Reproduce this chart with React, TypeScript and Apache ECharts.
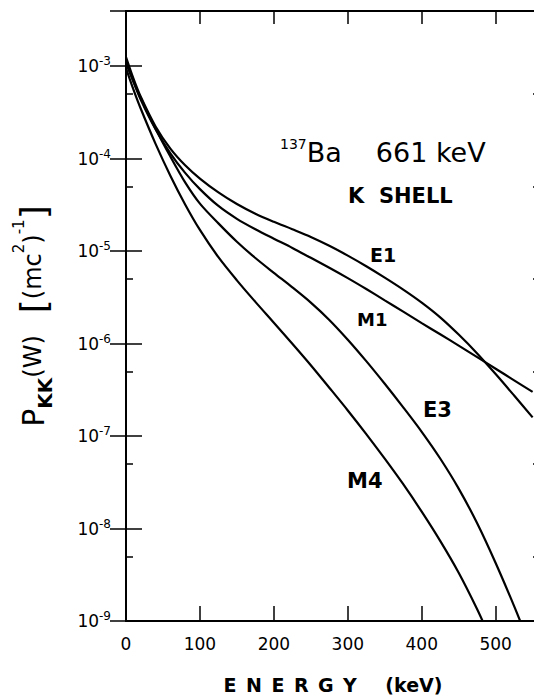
import React, { useEffect, useRef } from 'react';
import * as echarts from 'echarts';

// Energies (keV) and K-shell pair-creation probabilities P_KK(W) [(mc^2)^-1]
const energyE1 = [0, 10, 20, 40, 60, 80, 100, 125, 150, 175, 200, 225, 250, 275, 300, 325, 350, 375, 400, 425, 450, 475, 500, 525, 550];
const valuesE1 = [1.25e-3, 7.36e-4, 4.65e-4, 2.22e-4, 1.28e-4, 8.45e-5, 6.07e-5, 4.3e-5, 3.22e-5, 2.53e-5, 2.07e-5, 1.72e-5, 1.42e-5, 1.14e-5, 8.92e-6, 6.85e-6, 5.16e-6, 3.83e-6, 2.77e-6, 1.92e-6, 1.25e-6, 7.82e-7, 4.68e-7, 2.74e-7, 1.59e-7];

const energyM1 = [0, 10, 20, 40, 60, 80, 100, 125, 150, 175, 200, 225, 250, 275, 300, 325, 350, 375, 400, 425, 450, 475, 500, 525, 550];
const valuesM1 = [1.16e-3, 6.84e-4, 4.32e-4, 2.07e-4, 1.14e-4, 7.0e-5, 4.67e-5, 3.07e-5, 2.23e-5, 1.72e-5, 1.36e-5, 1.08e-5, 8.44e-6, 6.59e-6, 5.09e-6, 3.88e-6, 2.93e-6, 2.21e-6, 1.66e-6, 1.26e-6, 9.5e-7, 7.12e-7, 5.34e-7, 4.0e-7, 3.0e-7];

const energyE3 = [0, 10, 20, 40, 60, 80, 100, 125, 150, 175, 200, 225, 250, 275, 300, 325, 350, 375, 400, 425, 450, 475, 500, 525, 540];
const valuesE3 = [1.08e-3, 6.79e-4, 4.49e-4, 2.1e-4, 1.05e-4, 5.52e-5, 3.25e-5, 1.99e-5, 1.26e-5, 8.4e-6, 5.81e-6, 4.05e-6, 2.77e-6, 1.8e-6, 1.1e-6, 6.45e-7, 3.67e-7, 2.04e-7, 1.11e-7, 5.71e-8, 2.7e-8, 1.14e-8, 4.24e-9, 1.45e-9, 7.3e-10];

const energyM4 = [0, 10, 20, 40, 60, 80, 100, 125, 150, 175, 200, 225, 250, 275, 300, 325, 350, 375, 400, 425, 450, 475, 490];
const valuesM4 = [9.51e-4, 5.6e-4, 3.45e-4, 1.44e-4, 6.52e-5, 3.19e-5, 1.69e-5, 8.57e-6, 4.82e-6, 2.82e-6, 1.68e-6, 9.95e-7, 5.83e-7, 3.33e-7, 1.89e-7, 1.05e-7, 5.69e-8, 3.01e-8, 1.52e-8, 7.34e-9, 3.32e-9, 1.34e-9, 7.3e-10];

const xTickLabels = [0, 100, 200, 300, 400, 500];
const yDecades = [-9, -8, -7, -6, -5, -4, -3];
const minorTickMantissa = 5; // minor ticks at 5 x 10^n
const X_MAX = 560;
const Y_MIN = -9;
const Y_MAX = -2.405;

const FONT = '"DejaVu Sans", sans-serif';

const toLog = (xs: number[], vs: number[]) => xs.map((x, i) => [x, Math.log10(vs[i])]);

const minorTicks = yDecades
  .map((d) => d - 1 + Math.log10(minorTickMantissa))
  .filter((v) => v > Y_MIN && v < Y_MAX);

export default function App() {
  const ref = useRef<HTMLDivElement>(null);
  useEffect(() => {
    if (!ref.current) return;
    const chart = echarts.init(ref.current, null, { renderer: 'svg' });
    const lineStyle = { color: '#000', width: 2.2 };
    const axisLineStyle = { color: '#000', width: 2 };
    const mkSeries = (name: string, data: number[][]) => ({
      name,
      type: 'line',
      data,
      xAxisIndex: 0,
      yAxisIndex: 0,
      showSymbol: false,
      symbol: 'none',
      smooth: 0.3,
      lineStyle,
      clip: true,
    });
    const gridBox = { left: 126, right: 6, top: 11, bottom: 75, outerBoundsMode: 'none', containLabel: false };
    chart.setOption({
      animation: false,
      backgroundColor: '#fff',
      grid: [{ ...gridBox }, { ...gridBox }],
      xAxis: [
        {
          type: 'value', gridIndex: 0, position: 'bottom', min: 0, max: X_MAX, interval: 100,
          axisLine: { show: true, lineStyle: axisLineStyle },
          axisTick: { show: true, inside: true, length: 15, lineStyle: { color: '#000', width: 1.5 } },
          axisLabel: {
            show: true, margin: 14, color: '#000', fontSize: 17, fontFamily: FONT,
            formatter: (v: number) => (xTickLabels.indexOf(v) >= 0 ? String(v) : ''),
          },
          splitLine: { show: false },
          name: 'E\u2002N\u2002E\u2002R\u2002G\u2002Y\u2003\u2002(keV)',
          nameLocation: 'middle', nameGap: 54,
          nameTextStyle: { color: '#000', fontSize: 19, fontWeight: 'bold', fontFamily: FONT },
        },
        {
          type: 'value', gridIndex: 0, position: 'top', min: 0, max: X_MAX, interval: 100,
          axisLine: { show: true, lineStyle: axisLineStyle },
          axisTick: { show: true, inside: true, length: 13, lineStyle: { color: '#000', width: 1.5 } },
          axisLabel: { show: false },
          splitLine: { show: false },
        },
        {
          type: 'value', gridIndex: 1, min: 0, max: X_MAX, show: false,
        },
      ],
      yAxis: [
        {
          type: 'value', gridIndex: 0, position: 'left', min: Y_MIN, max: Y_MAX, interval: 1,
          axisLine: { show: true, lineStyle: axisLineStyle },
          axisTick: { show: true, inside: true, length: 16, lineStyle: { color: '#000', width: 1.5 } },
          axisLabel: {
            show: true, margin: 15, color: '#000',
            formatter: (v: number) => {
              const r = Math.round(v);
              return Math.abs(v - r) < 1e-6 ? `{b|10}{s|${r}}` : '';
            },
            rich: {
              b: { fontSize: 17, fontFamily: FONT, color: '#000', lineHeight: 22 },
              s: { fontSize: 12, fontFamily: FONT, color: '#000', lineHeight: 14, verticalAlign: 'top' },
            },
          },
          splitLine: { show: false },
          name: '{p|P}{k|KK}{w|(W)}{g| }{b|[}{w|(mc}{t|2}{w|)}{t|-1}{b|]}',
          nameLocation: 'middle', nameRotate: 90, nameGap: 71,
          nameTextStyle: {
            color: '#000',
            rich: {
              p: { fontSize: 30, fontFamily: FONT, color: '#000', lineHeight: 44 },
              k: { fontSize: 20, fontFamily: FONT, fontWeight: 'bold', color: '#000', lineHeight: 28, verticalAlign: 'bottom' },
              w: { fontSize: 24, fontFamily: FONT, color: '#000', lineHeight: 44 },
              b: { fontSize: 36, fontFamily: FONT, color: '#000', lineHeight: 44 },
              t: { fontSize: 15, fontFamily: FONT, color: '#000', lineHeight: 15, verticalAlign: 'top' },
              g: { fontSize: 24, width: 22, lineHeight: 44 },
            },
          },
        },
        {
          type: 'value', gridIndex: 0, position: 'right', min: Y_MIN, max: Y_MAX, interval: 1,
          axisLine: { show: true, lineStyle: axisLineStyle },
          axisTick: { show: true, inside: true, length: 16, lineStyle: { color: '#000', width: 1.5 } },
          axisLabel: { show: false },
          splitLine: { show: false },
        },
        {
          type: 'value', gridIndex: 1, position: 'left', min: Y_MIN, max: Y_MAX,
          axisLine: { show: false },
          axisTick: { show: true, inside: true, length: 7, customValues: minorTicks, lineStyle: { color: '#000', width: 1.5 } },
          axisLabel: { show: false },
          splitLine: { show: false },
        },
        {
          type: 'value', gridIndex: 1, position: 'right', min: Y_MIN, max: Y_MAX,
          axisLine: { show: false },
          axisTick: { show: true, inside: true, length: 7, customValues: minorTicks, lineStyle: { color: '#000', width: 1.5 } },
          axisLabel: { show: false },
          splitLine: { show: false },
        },
      ],
      series: [
        mkSeries('E1', toLog(energyE1, valuesE1)),
        mkSeries('M1', toLog(energyM1, valuesM1)),
        mkSeries('E3', toLog(energyE3, valuesE3)),
        mkSeries('M4', toLog(energyM4, valuesM4)),
      ],
      graphic: [
        {
          type: 'text', x: 280, y: 152,
          style: {
            text: '{s|137}{b|Ba}{g| }{b|661 keV}',
            verticalAlign: 'middle', align: 'left', fill: '#000',
            rich: {
              s: { fontSize: 14, fontFamily: FONT, fill: '#000', lineHeight: 8, verticalAlign: 'top' },
              b: { fontSize: 27, fontFamily: FONT, fill: '#000', lineHeight: 30 },
              g: { fontSize: 27, width: 34, lineHeight: 30 },
            },
          },
        },
        { type: 'text', x: 348, y: 196, style: { text: 'K  SHELL', font: `bold 21px ${FONT}`, fill: '#000', verticalAlign: 'middle', align: 'left' } },
        { type: 'text', x: 370, y: 255, style: { text: 'E1', font: `bold 19px ${FONT}`, fill: '#000', verticalAlign: 'middle', align: 'left' } },
        { type: 'text', x: 357, y: 319, style: { text: 'M1', font: `bold 18px ${FONT}`, fill: '#000', verticalAlign: 'middle', align: 'left' } },
        { type: 'text', x: 423, y: 410, style: { text: 'E3', font: `bold 21px ${FONT}`, fill: '#000', verticalAlign: 'middle', align: 'left' } },
        { type: 'text', x: 347, y: 481, style: { text: 'M4', font: `bold 21px ${FONT}`, fill: '#000', verticalAlign: 'middle', align: 'left' } },
      ],
    });
    return () => chart.dispose();
  }, []);
  return (
    <div style={{ position: 'absolute', left: 0, top: 0, width: 534, height: 696, overflow: 'hidden', background: '#fff' }}>
      <div ref={ref} style={{ width: 546, height: 696 }} />
    </div>
  );
}
